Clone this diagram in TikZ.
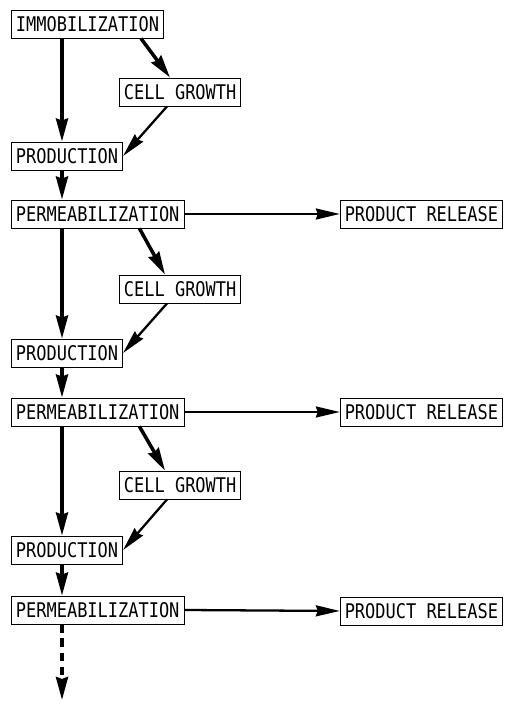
\documentclass[tikz,border=0pt]{standalone}
\usepackage{fontspec}
\usepackage{tikz}
\usetikzlibrary{positioning,arrows.meta,calc}
\newfontfamily\plotfont[FakeStretch=0.84]{DejaVu Sans Mono}

\begin{document}
\begin{tikzpicture}[
  every node/.style={font=\plotfont\fontsize{11.5pt}{12pt}\selectfont},
  stagebox/.style={draw, line width=0.5pt, rectangle, text height=0.3cm, text depth=0pt,
               inner xsep=0.09cm, inner ysep=0.13cm},
  arrow/.style={-{Stealth[length=4.6mm,width=2.4mm,inset=0.4mm]}, line width=2pt},
  sidearrow/.style={-{Stealth[length=4.8mm,width=2.2mm,inset=0.4mm]}, line width=1.3pt}
]
  \useasboundingbox (0,0) rectangle (10.2,14.18);

  % first cycle
  \node[stagebox, anchor=west] (imm)   at (0.22,13.70) {IMMOBILIZATION};
  \node[stagebox, anchor=west] (cg1)   at (2.38,12.34) {CELL GROWTH};
  \node[stagebox, anchor=west] (prod1) at (0.22,11.06) {PRODUCTION};
  \node[stagebox, anchor=west] (perm1) at (0.22,9.90)  {PERMEABILIZATION};
  \node[stagebox, anchor=east] (rel1)  at (10.06,9.90) {PRODUCT RELEASE};

  % second cycle
  \node[stagebox, anchor=west] (cg2)   at (2.38,8.40)  {CELL GROWTH};
  \node[stagebox, anchor=west] (prod2) at (0.22,7.12)  {PRODUCTION};
  \node[stagebox, anchor=west] (perm2) at (0.22,5.94)  {PERMEABILIZATION};
  \node[stagebox, anchor=east] (rel2)  at (10.06,5.94) {PRODUCT RELEASE};

  % third cycle
  \node[stagebox, anchor=west] (cg3)   at (2.38,4.48)  {CELL GROWTH};
  \node[stagebox, anchor=west] (prod3) at (0.22,3.18)  {PRODUCTION};
  \node[stagebox, anchor=west] (perm3) at (0.22,1.98)  {PERMEABILIZATION};
  \node[stagebox, anchor=east] (rel3)  at (10.06,1.96) {PRODUCT RELEASE};
  \coordinate (more) at (1.24,0.18);

  \draw[arrow] ([xshift=1.02cm]imm.south west) -- ([xshift=1.02cm]prod1.north west);
  \draw[arrow] ([xshift=-0.46cm]imm.south east) -- ([xshift=1.02cm]cg1.north west);
  \draw[sidearrow] ([xshift=0.96cm]cg1.south west) -- (prod1.east);
  \draw[arrow] ([xshift=1.02cm]prod1.south west) -- ([xshift=1.02cm]perm1.north west);
  \draw[sidearrow] (perm1.east) -- (rel1.west);

  \draw[arrow] ([xshift=1.02cm]perm1.south west) -- ([xshift=1.02cm]prod2.north west);
  \draw[arrow] ([xshift=-0.9cm]perm1.south east) -- ([xshift=0.92cm]cg2.north west);
  \draw[sidearrow] ([xshift=0.96cm]cg2.south west) -- (prod2.east);
  \draw[arrow] ([xshift=1.02cm]prod2.south west) -- ([xshift=1.02cm]perm2.north west);
  \draw[sidearrow] (perm2.east) -- (rel2.west);

  \draw[arrow] ([xshift=1.02cm]perm2.south west) -- ([xshift=1.02cm]prod3.north west);
  \draw[arrow] ([xshift=-0.9cm]perm2.south east) -- ([xshift=0.92cm]cg3.north west);
  \draw[sidearrow] ([xshift=0.96cm]cg3.south west) -- (prod3.east);
  \draw[arrow] ([xshift=1.02cm]prod3.south west) -- ([xshift=1.02cm]perm3.north west);
  \draw[sidearrow] (perm3.east) -- (rel3.west);

  \draw[arrow, dash pattern=on 5pt off 3pt] ([xshift=1.02cm]perm3.south west) -- (more);
\end{tikzpicture}
\end{document}
